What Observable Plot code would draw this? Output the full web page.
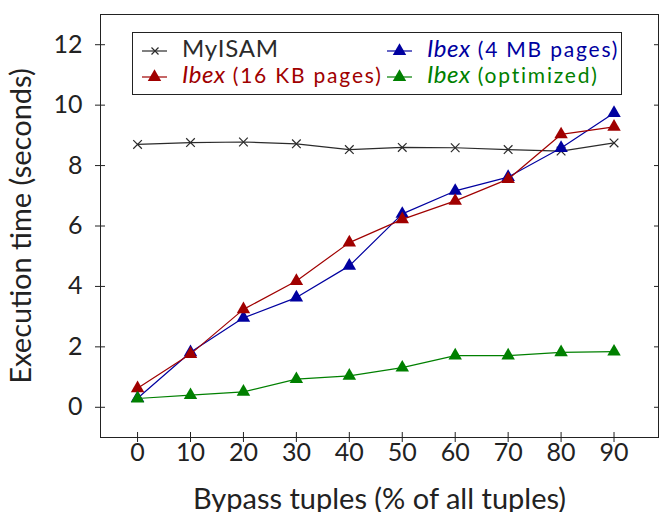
<!DOCTYPE html>
<html>
<head>
<meta charset="utf-8">
<script src="https://cdn.jsdelivr.net/npm/d3@7"></script>
<script src="https://cdn.jsdelivr.net/npm/@observablehq/plot@0.6"></script>
<style>
  html, body { margin: 0; padding: 0; background: #fff; }
  #wrap { position: relative; width: 659px; height: 512px; font-family: "Lato", sans-serif; overflow: hidden; }
  #legend { position: absolute; left: 132px; top: 32px; }
</style>
</head>
<body>
<div id="wrap"><div id="chart"></div><svg id="legend" width="491" height="64"></svg></div>
<script>
const bypass = [0, 10, 20, 30, 40, 50, 60, 70, 80, 90];
const myisam   = [8.70, 8.76, 8.78, 8.72, 8.53, 8.60, 8.59, 8.53, 8.48, 8.75];
const ibex16kb = [0.63, 1.76, 3.24, 4.18, 5.45, 6.22, 6.83, 7.55, 9.03, 9.28];
const ibex4mb  = [0.30, 1.82, 2.96, 3.63, 4.68, 6.40, 7.16, 7.62, 8.58, 9.74];
const ibexOpt  = [0.29, 0.40, 0.51, 0.93, 1.04, 1.31, 1.71, 1.71, 1.82, 1.84];

const seriesNames = ["MyISAM", "Ibex (4 MB pages)", "Ibex (16 KB pages)", "Ibex (optimized)"];
const seriesColors = ["#2b2b2b", "#0000a0", "#a00000", "#008000"];
const seriesValues = [myisam, ibex4mb, ibex16kb, ibexOpt];
const xTicks = [0, 10, 20, 30, 40, 50, 60, 70, 80, 90];
const yTicks = [0, 2, 4, 6, 8, 10, 12];
const xLabel = "Bypass tuples (% of all tuples)";
const yLabel = "Execution time (seconds)";

const rows = [];
seriesNames.forEach((s, i) => bypass.forEach((x, j) => rows.push({series: s, x, y: seriesValues[i][j]})));

const marks = [
  Plot.frame({stroke: "#222"}),
  // tick labels
  Plot.axisY(yTicks, {anchor: "left", tickSize: 0, tickPadding: 18, fontSize: 25, label: null}),
  Plot.axisX(xTicks, {anchor: "bottom", tickSize: 0, tickPadding: 6, fontSize: 25, label: null}),
  // axis titles
  Plot.axisY([], {anchor: "left", tickSize: 0, fontSize: 29, label: yLabel, labelAnchor: "center", labelOffset: 90, labelArrow: "none"}),
  Plot.axisX([], {anchor: "bottom", tickSize: 0, fontSize: 29, label: xLabel, labelAnchor: "center", labelOffset: 71, labelArrow: "none"}),
  // crossing ticks
  Plot.axisY(yTicks, {anchor: "left", tickSize: 10, dx: 5, tickFormat: () => "", label: null, stroke: "#222"}),
  Plot.axisY(yTicks, {anchor: "right", tickSize: 5, dx: -5, tickFormat: () => "", label: null, stroke: "#222"}),
  Plot.axisX(xTicks, {anchor: "bottom", tickSize: 10, dy: -5, tickFormat: () => "", label: null, stroke: "#222"})
];
seriesNames.forEach((s, i) => {
  const d = rows.filter(r => r.series === s);
  marks.push(Plot.line(d, {x: "x", y: "y", stroke: seriesColors[i], strokeWidth: 1.2}));
  if (i === 0) marks.push(Plot.dot(d, {x: "x", y: "y", symbol: "times", r: 4, stroke: seriesColors[i], strokeWidth: 1.2}));
  else marks.push(Plot.dot(d, {x: "x", y: "y", symbol: "triangle", r: 5, fill: seriesColors[i], stroke: "none"}));
});

const chart = Plot.plot({
  width: 659, height: 512,
  marginLeft: 100, marginRight: 1, marginTop: 14, marginBottom: 75,
  style: {fontFamily: "Lato, sans-serif", color: "#222", background: "#fff", overflow: "visible"},
  x: {domain: [-7, 98.4]},
  y: {domain: [-1, 13]},
  marks
});
document.getElementById("chart").appendChild(chart);

// legend (SVG overlay, real text)
const legendItems = [
  {idx: 0, col: 0, row: 0, ibex: null, rest: "MyISAM"},
  {idx: 2, col: 0, row: 1, ibex: "Ibex", rest: "\u00a0(16 KB pages)"},
  {idx: 1, col: 1, row: 0, ibex: "Ibex", rest: "\u00a0(4 MB pages)"},
  {idx: 3, col: 1, row: 1, ibex: "Ibex", rest: "\u00a0(optimized)"}
];
const lg = d3.select("#legend");
lg.append("rect").attr("x", 0.5).attr("y", 0.5).attr("width", 489).attr("height", 62)
  .attr("fill", "#fff").attr("stroke", "#222");
const colX = [10, 255];
const rowBase = [25, 51];
legendItems.forEach(it => {
  const c = seriesColors[it.idx];
  const x0 = colX[it.col], yb = rowBase[it.row], yl = yb - 6;
  const g = lg.append("g");
  g.append("line").attr("x1", x0).attr("x2", x0 + 25).attr("y1", yl).attr("y2", yl).attr("stroke", c).attr("stroke-width", 1.2);
  if (it.idx === 0) {
    g.append("path").attr("d", `M${x0+9.5},${yl-3.5}L${x0+16.5},${yl+3.5}M${x0+16.5},${yl-3.5}L${x0+9.5},${yl+3.5}`)
      .attr("stroke", c).attr("stroke-width", 1.2).attr("fill", "none");
  } else {
    g.append("path").attr("d", d3.symbol(d3.symbolTriangle, 78.5)()).attr("transform", `translate(${x0 + 12.5},${yl})`).attr("fill", c);
  }
  const t = g.append("text").attr("x", x0 + 40).attr("y", yb).attr("fill", c).style("font-family", "Lato, sans-serif");
  if (it.ibex) {
    t.append("tspan").style("font-style", "italic").style("font-size", "24px").style("letter-spacing", "0.5px").text(it.ibex);
    t.append("tspan").style("font-size", "21px").style("letter-spacing", "1.8px").text(it.rest);
  } else {
    t.append("tspan").style("font-size", "24px").style("letter-spacing", "0.8px").text(it.rest);
  }
});
</script>
</body>
</html>
